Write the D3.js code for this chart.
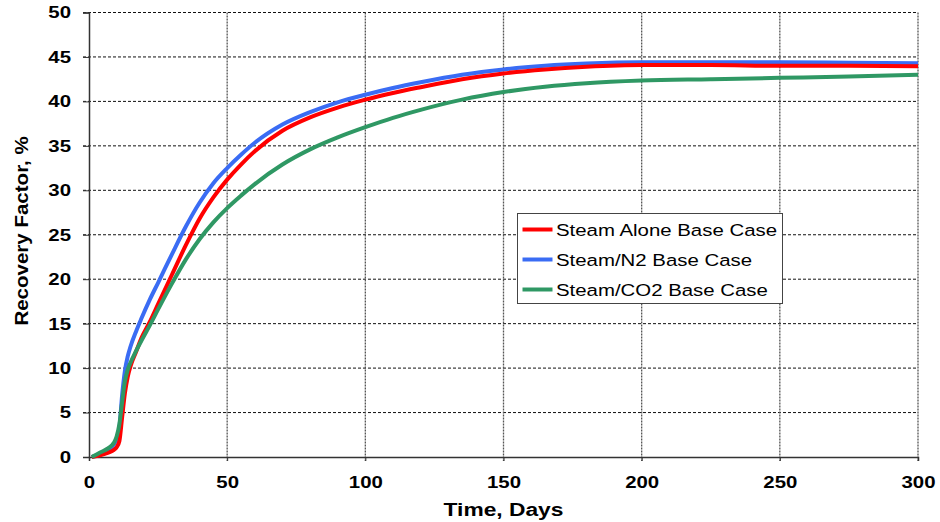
<!DOCTYPE html>
<html>
<head>
<meta charset="utf-8">
<script src="https://cdn.jsdelivr.net/npm/d3@7"></script>
<style>
  body { margin: 0; background: #fff; }
  svg { display: block; font-family: "Liberation Sans", Arial, sans-serif; }
</style>
</head>
<body>
<svg id="chart" width="940" height="522"></svg>
<script>
// time axis (days) shared by every series
const days = [1, 4, 7, 9, 10, 11, 12, 13, 14, 15, 17, 19, 22, 25, 30, 35, 40, 45, 50, 55, 60,
  70, 80, 90, 100, 110, 120, 135, 150, 165, 180, 200, 225, 250, 275, 300];

const steamAlone = [0, 0.2, 0.5, 0.8, 1.1, 1.8, 4.5, 7.2, 9, 10.2, 11.8, 13.4, 15.2, 17.2, 20.5,
  23.8, 26.8, 29.2, 31.2, 32.9, 34.4, 36.7, 38.2, 39.3, 40.2, 40.95, 41.6, 42.5, 43.15, 43.6,
  43.9, 44.1, 44.1, 44.0, 44.0, 43.95];

const steamN2 = [0, 0.3, 0.8, 1.4, 2.0, 3.3, 7, 9.7, 11.3, 12.4, 14.1, 15.6, 17.7, 19.6, 22.8,
  25.9, 28.6, 30.8, 32.5, 34.0, 35.35, 37.4, 38.8, 39.9, 40.75, 41.5, 42.15, 43.0, 43.6, 44.0,
  44.25, 44.4, 44.4, 44.4, 44.35, 44.3];

const steamCO2 = [0, 0.5, 1.0, 1.6, 2.3, 3.7, 6.2, 8.5, 9.8, 10.6, 11.9, 13.1, 14.8, 16.6, 19.5,
  22.2, 24.5, 26.4, 28.0, 29.4, 30.7, 32.9, 34.6, 35.95, 37.1, 38.15, 39.05, 40.2, 41.05, 41.65,
  42.05, 42.35, 42.5, 42.65, 42.8, 43.0];

const xTicks = [0, 50, 100, 150, 200, 250, 300];
const yTicks = [0, 5, 10, 15, 20, 25, 30, 35, 40, 45, 50];

const series = [
  { name: "Steam/N2 Base Case", values: steamN2, color: "#3a6cf4" },
  { name: "Steam Alone Base Case", values: steamAlone, color: "#ff0000" },
  { name: "Steam/CO2 Base Case", values: steamCO2, color: "#2f9864" }
];
const legendOrder = ["Steam Alone Base Case", "Steam/N2 Base Case", "Steam/CO2 Base Case"];

const svg = d3.select("#chart");
const plotLeft = 89, plotRight = 918, plotTop = 12.5, plotBottom = 457;
const stretch = 1.2; // text in the picture is drawn a bit wide

const x = d3.scaleLinear().domain([0, 300]).range([plotLeft, plotRight]);
const y = d3.scaleLinear().domain([0, 50]).range([plotBottom, plotTop]);

// grid
svg.append("g")
  .selectAll("line")
  .data(yTicks.filter(d => d > 0))
  .join("line")
  .attr("x1", plotLeft - 6).attr("x2", plotRight)
  .attr("y1", d => y(d)).attr("y2", d => y(d))
  .attr("stroke", "#111").attr("stroke-width", 1)
  .attr("stroke-dasharray", "3,2");

svg.append("g")
  .selectAll("line")
  .data(xTicks.filter(d => d > 0))
  .join("line")
  .attr("x1", d => x(d)).attr("x2", d => x(d))
  .attr("y1", plotTop).attr("y2", plotBottom + 4)
  .attr("stroke", "#555").attr("stroke-width", 1.3)
  .attr("stroke-dasharray", "2,1");

// axes
let yAxis = svg.append("g")
  .attr("transform", `translate(${plotLeft},0)`)
  .call(d3.axisLeft(y).tickValues(yTicks).tickSize(6).tickPadding(9));
yAxis.select(".domain").attr("stroke", "#333").attr("stroke-width", 1.5);
yAxis.selectAll(".tick line").attr("stroke", "#333");
yAxis.selectAll("text")
  .attr("font-size", 17).attr("font-weight", "bold").attr("fill", "#000")
  .attr("transform", `scale(${stretch},1)`);

let xAxis = svg.append("g")
  .attr("transform", `translate(0,${plotBottom})`)
  .call(d3.axisBottom(x).tickValues(xTicks).tickSize(4).tickPadding(15));
xAxis.select(".domain").attr("stroke", "#333").attr("stroke-width", 1.5);
xAxis.selectAll(".tick line").attr("stroke", "#333");
xAxis.selectAll("text")
  .attr("font-size", 17).attr("font-weight", "bold").attr("fill", "#000")
  .attr("transform", `scale(${stretch},1)`);

// axis titles
svg.append("text")
  .attr("transform", `translate(${(plotLeft + plotRight) / 2},516) scale(${stretch},1)`)
  .attr("text-anchor", "middle")
  .attr("font-size", 19).attr("font-weight", "bold")
  .text("Time, Days");

svg.append("text")
  .attr("transform", `translate(27.5,231) rotate(-90) scale(1.08,1)`)
  .attr("text-anchor", "middle")
  .attr("font-size", 19).attr("font-weight", "bold")
  .text("Recovery Factor, %");

// curves
let line = d3.line()
  .x((d, i) => x(days[i]))
  .y(d => y(d))
  .curve(d3.curveMonotoneX);

svg.append("g")
  .selectAll("path")
  .data(series)
  .join("path")
  .attr("d", d => line(d.values))
  .attr("fill", "none")
  .attr("stroke", d => d.color)
  .attr("stroke-width", 4)
  .attr("stroke-linejoin", "round");

// legend
let legend = svg.append("g").attr("transform", "translate(517.5,213.5)");
legend.append("rect")
  .attr("width", 265).attr("height", 90)
  .attr("fill", "#fff").attr("stroke", "#444").attr("stroke-width", 1);

let items = legend.selectAll(".item")
  .data(legendOrder.map(n => series.find(s => s.name === n)))
  .join("g")
  .attr("class", "item")
  .attr("transform", (d, i) => `translate(0,${16 + i * 30})`);

items.append("line")
  .attr("x1", 5).attr("x2", 35)
  .attr("stroke", d => d.color).attr("stroke-width", 4);

items.append("text")
  .attr("transform", `translate(38.5,0) scale(${stretch},1)`)
  .attr("dy", "0.36em")
  .attr("font-size", 17)
  .attr("fill", "#000")
  .text(d => d.name);
</script>
</body>
</html>
